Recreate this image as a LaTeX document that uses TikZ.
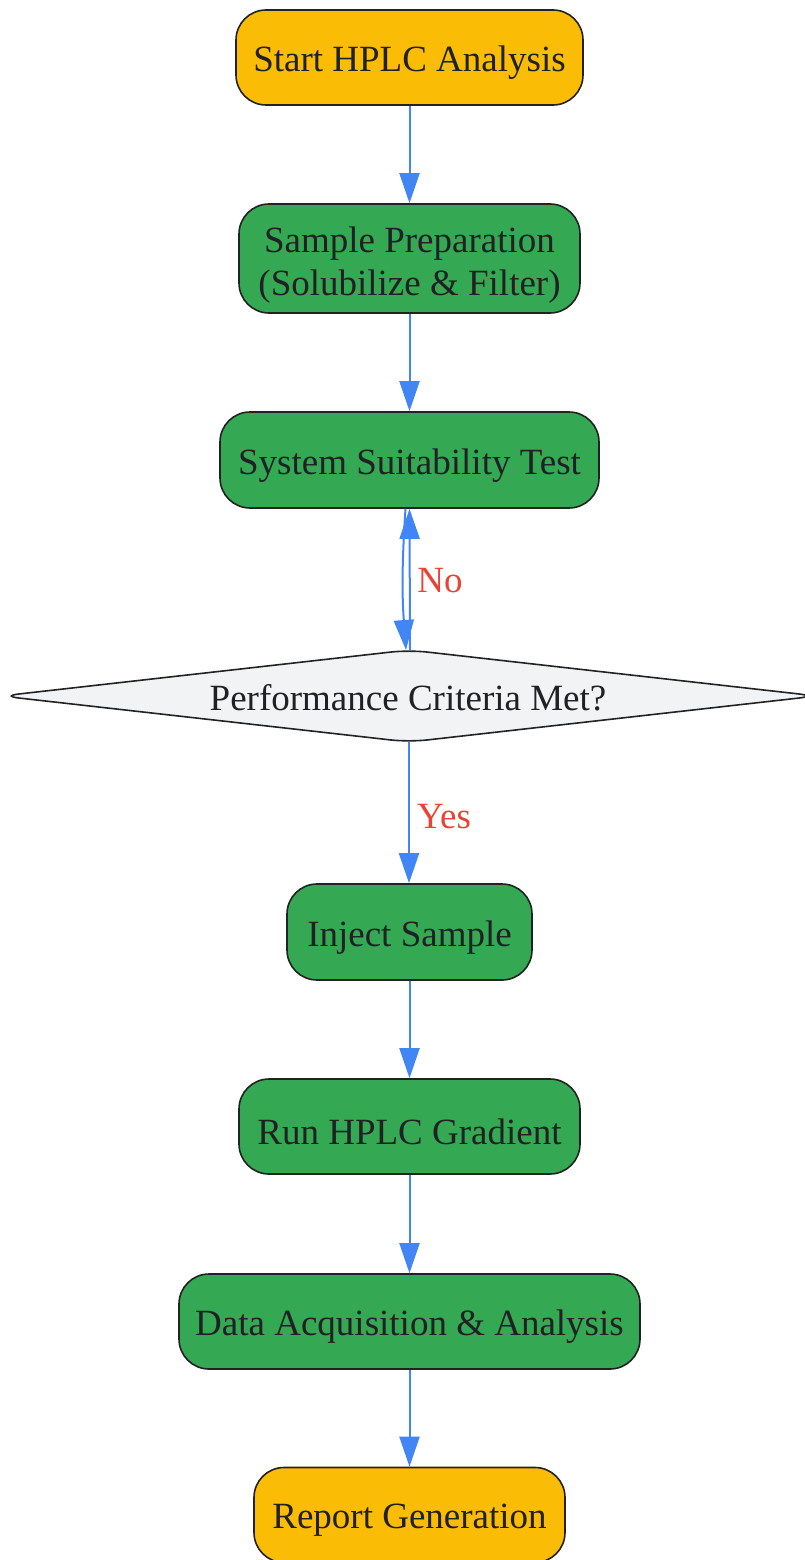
\documentclass[tikz,border=0pt]{standalone}
\usepackage{fontspec}
\setmainfont{Liberation Serif}
\usetikzlibrary{arrows.meta,calc}
\definecolor{orangefill}{HTML}{FBBC05}
\definecolor{greenfill}{HTML}{34A853}
\definecolor{diafill}{HTML}{F1F3F4}
\definecolor{edgeblue}{HTML}{4285F4}
\definecolor{labelred}{HTML}{EA4335}
\definecolor{textdark}{HTML}{202124}
\definecolor{borderdark}{HTML}{222222}
\newcommand\lowertext[2]{\raisebox{-#1}[\height][\depth]{#2}}
\begin{document}
\begin{tikzpicture}[x=1pt,y=-1pt,
  box/.style={draw=borderdark, line width=1.6pt, rounded corners=30pt, text=textdark,
    font=\fontsize{37}{43}\selectfont, inner sep=0pt},
  startend/.style={box, fill=orangefill},
  proc/.style={box, fill=greenfill},
  dia/.style={draw=borderdark, line width=1.6pt, fill=diafill, rounded corners=18pt},
  diatext/.style={text=textdark, font=\fontsize{37}{43}\selectfont, inner sep=0pt},
  flow/.style={draw=edgeblue, line width=2pt, -{Triangle[length=30pt,width=20pt]}},
  elabel/.style={text=labelred, font=\fontsize{37}{43}\selectfont, inner sep=0pt}]
\useasboundingbox (0,0) rectangle (804,1560);
\node[startend, minimum width=347pt, minimum height=95pt] (start) at (409.5,57.5) {\lowertext{5.5pt}{Start HPLC Analysis}};
\node[proc, minimum width=341pt, minimum height=109pt] (prep) at (409.5,258.5) {\lowertext{7pt}{\begin{tabular}{@{}c@{}}Sample Preparation\\(Solubilize \& Filter)\end{tabular}}};
\node[proc, minimum width=379pt, minimum height=96pt] (sst) at (409.5,460) {\lowertext{5.5pt}{System Suitability Test}};
% decision diamond
\coordinate (dleft) at (1,696);
\coordinate (dtop) at (409,650);
\coordinate (dright) at (817,696);
\coordinate (dbot) at (409,742);
\draw[dia] ($(dleft)!0.5!(dtop)$) -- (dtop) -- (dright) -- (dbot) -- (dleft) -- cycle;
\node[diatext] (dec) at (408,698) {Performance Criteria Met?};
\node[proc, minimum width=245pt, minimum height=96pt] (inject) at (409.5,932) {\lowertext{5.5pt}{Inject Sample}};
\node[proc, minimum width=341pt, minimum height=95pt] (run) at (409.5,1126.5) {\lowertext{5.5pt}{Run HPLC Gradient}};
\node[proc, minimum width=461pt, minimum height=95pt] (data) at (409.5,1321.5) {\lowertext{5.5pt}{Data Acquisition \& Analysis}};
\node[startend, minimum width=311pt, minimum height=95pt] (report) at (409.5,1515) {\lowertext{5.5pt}{Report Generation}};
% connectors
\draw[flow] (start.south) -- (prep.north);
\draw[flow] (prep.south) -- (sst.north);
\draw[flow] ([xshift=-4pt]sst.south) to[bend right=4] ([xshift=-3pt]dtop);
\draw[flow] ([xshift=1pt]dtop) -- ([xshift=0pt]sst.south);
\node[elabel] (nolab) at (440,581) {No};
\draw[flow] (dbot) -- (dbot |- inject.north);
\node[elabel] (yeslab) at (444,817) {Yes};
\draw[flow] (inject.south) -- (run.north);
\draw[flow] (run.south) -- (data.north);
\draw[flow] (data.south) -- (report.north);
\end{tikzpicture}
\end{document}
